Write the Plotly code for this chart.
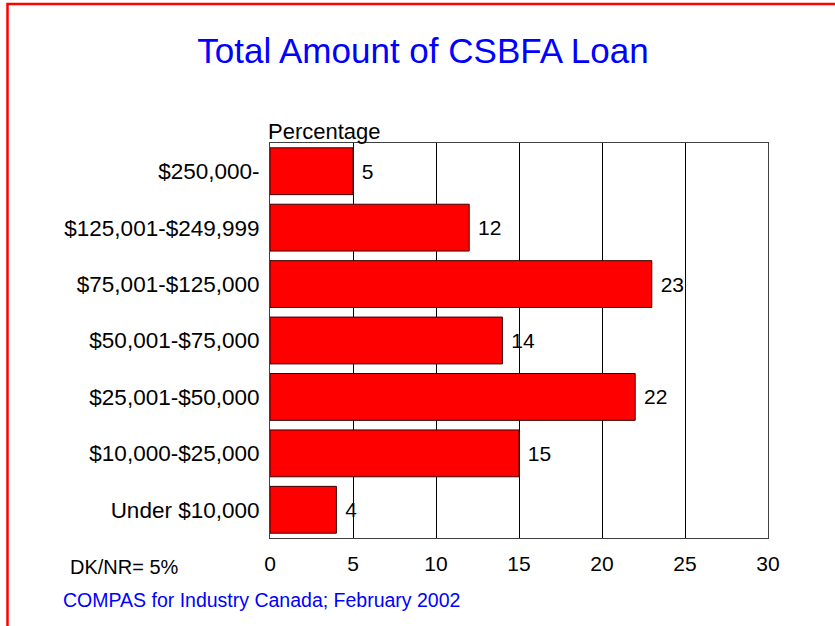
import plotly.graph_objects as go

# Loan size brackets, listed bottom to top as drawn
categories = [
    "Under $10,000",
    "$10,000-$25,000",
    "$25,001-$50,000",
    "$50,001-$75,000",
    "$75,001-$125,000",
    "$125,001-$249,999",
    "$250,000-",
]
percentages = [4, 15, 22, 14, 23, 12, 5]
x_ticks = [0, 5, 10, 15, 20, 25, 30]

FONT = "Arial, Liberation Sans, sans-serif"

W, H = 835, 626
ML, MR, MT, MB = 270, 67, 143, 88
PW, PH = W - ML - MR, H - MT - MB


def px_to_paper_x(px):
    return (px - ML) / PW


def px_to_paper_y(py):
    return (H - MB - py) / PH


fig = go.Figure(
    go.Bar(
        x=percentages,
        y=categories,
        orientation="h",
        marker=dict(color="#FF0000", line=dict(color="#3a0000", width=1)),
        text=[f" {v}" for v in percentages],
        textposition="outside",
        textfont=dict(family=FONT, size=21, color="#000000"),
        cliponaxis=False,
        hoverinfo="skip",
    )
)

fig.update_layout(
    width=W,
    height=H,
    margin=dict(l=ML, r=MR, t=MT, b=MB),
    paper_bgcolor="#FFFFFF",
    plot_bgcolor="#FFFFFF",
    bargap=0.17,
    showlegend=False,
    font=dict(family=FONT, color="#000000"),
    title=dict(
        text="Total Amount of CSBFA Loan",
        font=dict(family=FONT, size=35, color="#0000FF"),
        x=423 / W,
        xanchor="center",
        y=1 - 51 / H,
        yanchor="middle",
    ),
    xaxis=dict(
        range=[0, 30],
        tickvals=x_ticks,
        ticktext=[str(t) for t in x_ticks],
        tickfont=dict(family=FONT, size=21, color="#000000"),
        showgrid=True,
        gridcolor="#000000",
        gridwidth=1,
        showline=True,
        linecolor="#404040",
        linewidth=1,
        mirror=True,
        ticks="",
        ticklabelstandoff=7,
        zeroline=False,
        fixedrange=True,
    ),
    yaxis=dict(
        tickfont=dict(family=FONT, size=22.5, color="#000000"),
        showgrid=False,
        showline=True,
        linecolor="#404040",
        linewidth=1,
        mirror=True,
        ticks="",
        ticklabelstandoff=5,
        fixedrange=True,
    ),
    annotations=[
        dict(
            text="Percentage",
            xref="paper", yref="paper",
            x=0, y=1, xanchor="left", yanchor="bottom",
            xshift=-4, yshift=-3,
            showarrow=False,
            font=dict(family=FONT, size=22, color="#000000"),
        ),
        dict(
            text="DK/NR= 5%",
            xref="paper", yref="paper",
            x=px_to_paper_x(68), y=px_to_paper_y(567),
            xanchor="left", yanchor="middle",
            showarrow=False,
            font=dict(family=FONT, size=20, color="#000000"),
        ),
        dict(
            text="COMPAS for Industry Canada; February 2002",
            xref="paper", yref="paper",
            x=px_to_paper_x(61), y=px_to_paper_y(600),
            xanchor="left", yanchor="middle",
            showarrow=False,
            font=dict(family=FONT, size=19.5, color="#0000FF"),
        ),
    ],
    shapes=[
        dict(
            type="rect",
            xref="paper", yref="paper",
            x0=px_to_paper_x(7.5), x1=px_to_paper_x(W + 40),
            y0=px_to_paper_y(H + 40), y1=px_to_paper_y(4),
            line=dict(color="#FF0000", width=2.5),
            fillcolor="rgba(0,0,0,0)",
            layer="above",
        )
    ],
)

fig.write_html("out.html")
